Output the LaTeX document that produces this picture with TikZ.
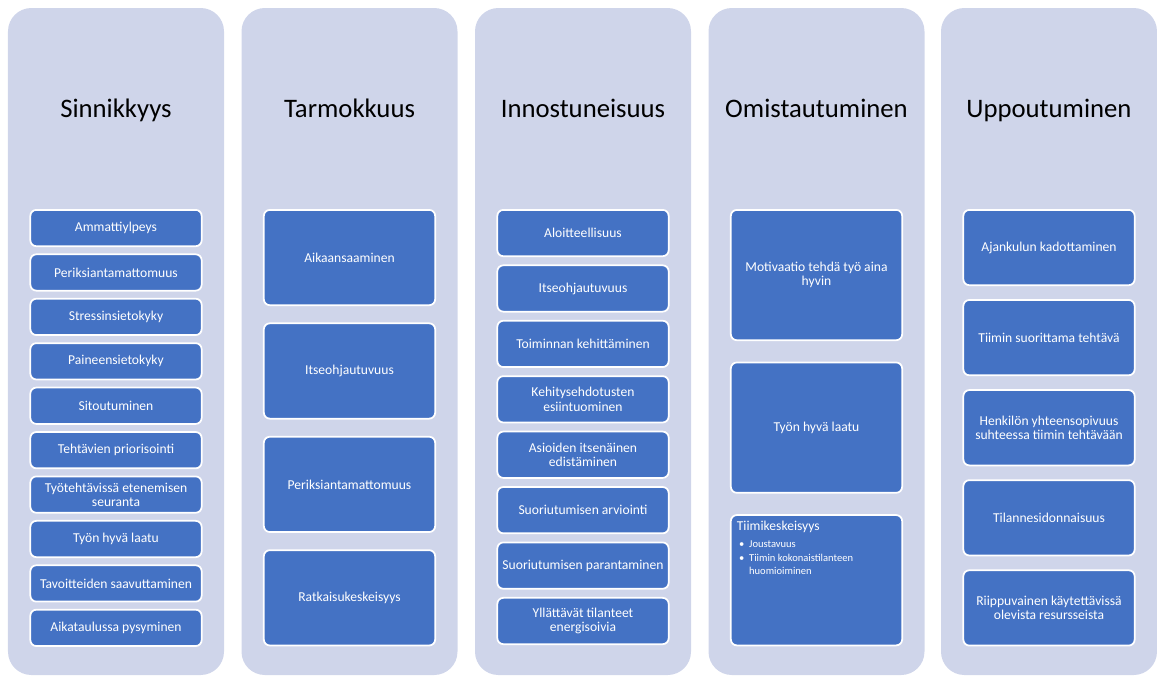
\documentclass[tikz,border=0pt]{standalone}
\usepackage{fontspec}
\setmainfont{Carlito}
\usetikzlibrary{positioning}
\definecolor{wbblue}{HTML}{4472C4}
\definecolor{wbpale}{HTML}{CFD5EA}

\begin{document}
\begin{tikzpicture}[node distance=1.9mm]
    \tikzset{column/.style={fill=wbpale,rounded corners=0.7cm,minimum width=6.48cm,minimum height=20.01cm,inner sep=0pt}, heading/.style={font=\fontsize{22.8}{26}\selectfont,text=black,anchor=base}, item/.style={draw=white,line width=1.5pt,fill=wbblue,rounded corners=0.18cm,minimum width=5.14cm,align=center,text=white,font=\fontsize{11.6}{12}\selectfont,inner sep=2pt}}
    \useasboundingbox (0,0) rectangle (34.71,-20.31);
    % columns and headings
    \node[column] (sin) at (3.48,-10.245) {};
    \node[column] (tar) at (10.485,-10.245) {};
    \node[column] (inn) at (17.49,-10.245) {};
    \node[column] (omi) at (24.495,-10.245) {};
    \node[column] (upp) at (31.47,-10.245) {};
    \node[heading] (sinhead) at (3.48,-3.51) {Sinnikkyys};
    \node[heading] (tarhead) at (10.485,-3.51) {Tarmokkuus};
    \node[heading] (innhead) at (17.49,-3.51) {Innostuneisuus};
    \node[heading] (omihead) at (24.495,-3.51) {Omistautuminen};
    \node[heading] (upphead) at (31.47,-3.51) {Uppoutuminen};
    % Sinnikkyys
    \node[item,minimum height=1.09cm,anchor=north] (sin1) at (3.48,-6.27) {Ammattiylpeys};
    \node[item,minimum height=1.09cm,below=0.19cm of sin1] (sin2) {Periksiantamattomuus};
    \node[item,minimum height=1.09cm,below=0.19cm of sin2] (sin3) {Stressinsietokyky};
    \node[item,minimum height=1.09cm,below=0.19cm of sin3] (sin4) {Paineensietokyky};
    \node[item,minimum height=1.09cm,below=0.19cm of sin4] (sin5) {Sitoutuminen};
    \node[item,minimum height=1.09cm,below=0.19cm of sin5] (sin6) {Tehtävien priorisointi};
    \node[item,minimum height=1.09cm,below=0.19cm of sin6] (sin7) {Työtehtävissä etenemisen\\seuranta};
    \node[item,minimum height=1.09cm,below=0.19cm of sin7] (sin8) {Työn hyvä laatu};
    \node[item,minimum height=1.09cm,below=0.19cm of sin8] (sin9) {Tavoitteiden saavuttaminen};
    \node[item,minimum height=1.09cm,below=0.19cm of sin9] (sin10) {Aikataulussa pysyminen};
    % Tarmokkuus
    \node[item,minimum height=2.86cm,anchor=north] (tar1) at (10.485,-6.27) {Aikaansaaminen};
    \node[item,minimum height=2.86cm,below=0.49cm of tar1] (tar2) {Itseohjautuvuus};
    \node[item,minimum height=2.86cm,below=0.49cm of tar2] (tar3) {Periksiantamattomuus};
    \node[item,minimum height=2.86cm,below=0.49cm of tar3] (tar4) {Ratkaisukeskeisyys};
    % Innostuneisuus
    \node[item,minimum height=1.39cm,anchor=north] (inn1) at (17.49,-6.27) {Aloitteellisuus};
    \node[item,minimum height=1.39cm,below=0.22cm of inn1] (inn2) {Itseohjautuvuus};
    \node[item,minimum height=1.39cm,below=0.22cm of inn2] (inn3) {Toiminnan kehittäminen};
    \node[item,minimum height=1.39cm,below=0.22cm of inn3] (inn4) {Kehitysehdotusten\\esiintuominen};
    \node[item,minimum height=1.39cm,below=0.22cm of inn4] (inn5) {Asioiden itsenäinen\\edistäminen};
    \node[item,minimum height=1.39cm,below=0.22cm of inn5] (inn6) {Suoriutumisen arviointi};
    \node[item,minimum height=1.39cm,below=0.22cm of inn6] (inn7) {Suoriutumisen parantaminen};
    \node[item,minimum height=1.39cm,below=0.22cm of inn7] (inn8) {Yllättävät tilanteet\\energisoivia};
    % Omistautuminen
    \node[item,minimum height=3.91cm,anchor=north] (omi1) at (24.495,-6.27) {Motivaatio tehdä työ aina\\hyvin};
    \node[item,minimum height=3.91cm,below=0.615cm of omi1] (omi2) {Työn hyvä laatu};
    \node[item,minimum height=3.91cm,below=0.615cm of omi2] (omi3) {};
    \node[anchor=north west,align=left,text=white,inner sep=0pt] (omi3text) at ([shift={(0.2,-0.2)}]omi3.north west) {{\fontsize{11.6}{14}\selectfont Tiimikeskeisyys}\\[4pt]
      {\fontsize{9}{11.4}\selectfont\begin{tabular}{@{\hspace{2pt}}l@{\hspace{4pt}}l@{}}\textbullet & Joustavuus\\ \textbullet & Tiimin kokonaistilanteen\\ & huomioiminen\end{tabular}}};
    % Uppoutuminen
    \node[item,minimum height=2.26cm,anchor=north] (upp1) at (31.47,-6.27) {Ajankulun kadottaminen};
    \node[item,minimum height=2.26cm,below=0.39cm of upp1] (upp2) {Tiimin suorittama tehtävä};
    \node[item,minimum height=2.26cm,below=0.39cm of upp2] (upp3) {Henkilön yhteensopivuus\\suhteessa tiimin tehtävään};
    \node[item,minimum height=2.26cm,below=0.39cm of upp3] (upp4) {Tilannesidonnaisuus};
    \node[item,minimum height=2.26cm,below=0.39cm of upp4] (upp5) {Riippuvainen käytettävissä\\olevista resursseista};
  \end{tikzpicture}
\end{document}
